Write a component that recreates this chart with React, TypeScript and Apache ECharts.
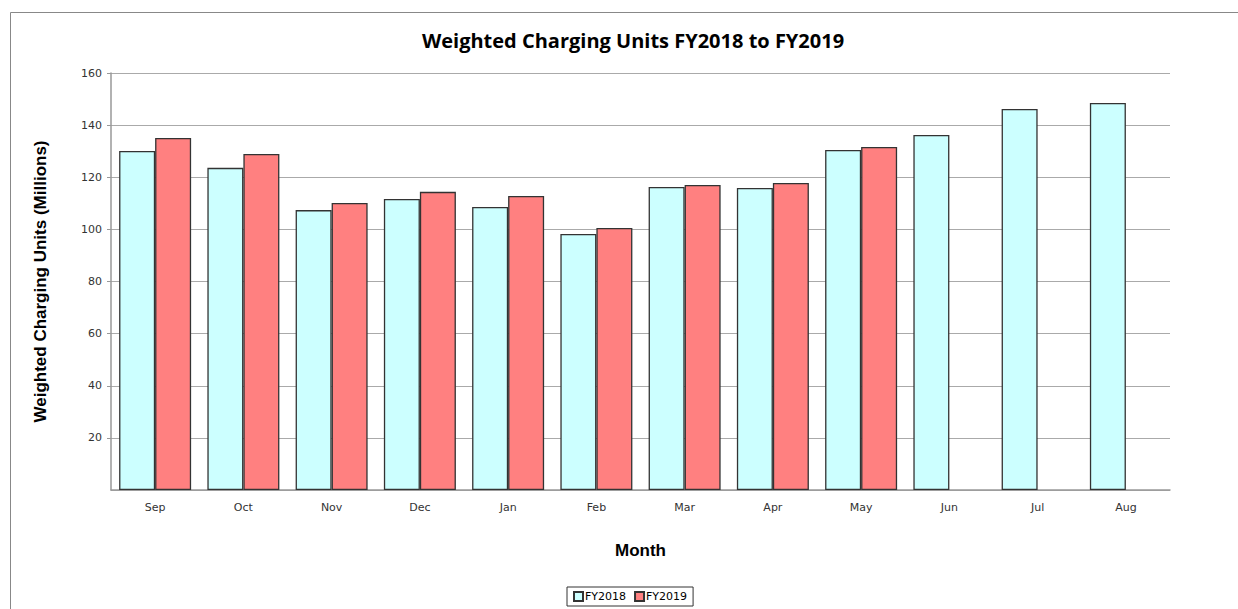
import React, { useEffect, useRef } from "react";
import * as echarts from "echarts";

const months = ["Sep", "Oct", "Nov", "Dec", "Jan", "Feb", "Mar", "Apr", "May", "Jun", "Jul", "Aug"];
const fy2018 = [130.1, 123.6, 107.4, 111.7, 108.6, 98.2, 116.3, 115.9, 130.5, 136.2, 146.2, 148.5];
const fy2019 = [135.1, 128.9, 110.1, 114.4, 112.8, 100.5, 117.0, 117.8, 131.6, null, null, null];
const yTicks = { min: 0, max: 160, interval: 20 };

export default function App() {
  const ref = useRef<HTMLDivElement>(null);
  useEffect(() => {
    if (!ref.current) return;
    const chart = echarts.init(ref.current, undefined, { renderer: "svg" });
    const tickFont = { fontFamily: "DejaVu Sans", fontSize: 11, color: "#333" };
    chart.setOption({
      animation: false,
      backgroundColor: "#fff",
      title: {
        text: "Weighted Charging Units FY2018 to FY2019",
        left: 628,
        top: 25,
        textAlign: "center",
        textStyle: { fontFamily: "Open Sans", fontWeight: "bold", fontSize: 20, color: "#000" },
      },
      graphic: [
        { type: "line", shape: { x1: 10.5, y1: 12.5, x2: 1238, y2: 12.5 }, style: { stroke: "#888", lineWidth: 1 } },
        { type: "line", shape: { x1: 10.5, y1: 12.5, x2: 10.5, y2: 609 }, style: { stroke: "#888", lineWidth: 1 } },
      ],
      legend: {
        data: ["FY2018", "FY2019"],
        icon: "rect",
        left: 567,
        top: 587,
        itemWidth: 9,
        itemHeight: 9,
        itemGap: 8,
        padding: [4, 6, 4, 6],
        borderColor: "#333",
        borderWidth: 1,
        textStyle: { ...tickFont, color: "#000", padding: [0, 0, 0, -3] },
      },
      grid: { left: 111, right: 68, top: 73, bottom: 119, containLabel: false },
      xAxis: {
        type: "category",
        data: months,
        name: "Month",
        nameLocation: "middle",
        nameGap: 52,
        nameTextStyle: { fontFamily: "Liberation Sans", fontWeight: "bold", fontSize: 17, color: "#000" },
        axisLine: { lineStyle: { color: "#999", width: 1.5 } },
        axisTick: { show: false },
        axisLabel: { ...tickFont, margin: 12 },
      },
      yAxis: {
        type: "value",
        min: yTicks.min,
        max: yTicks.max,
        interval: yTicks.interval,
        name: "Weighted Charging Units (Millions)",
        nameLocation: "middle",
        nameGap: 62,
        nameTextStyle: { fontFamily: "Liberation Sans", fontWeight: "bold", fontSize: 17, color: "#000" },
        axisLine: { show: true, lineStyle: { color: "#999", width: 1.5 } },
        axisTick: { show: true, length: 4, lineStyle: { color: "#999" } },
        axisLabel: { ...tickFont, margin: 9, showMinLabel: false, formatter: (v: number) => (v === 0 ? "" : String(v)) },
        splitLine: { lineStyle: { color: "#aaa", width: 1.2 } },
      },
      series: [
        {
          name: "FY2018",
          type: "bar",
          data: fy2018,
          barWidth: 36,
          barGap: "0%",
          itemStyle: { color: "#CCFFFF", borderColor: "#333", borderWidth: 1.3 },
        },
        {
          name: "FY2019",
          type: "bar",
          data: fy2019,
          barWidth: 36,
          barGap: "0%",
          itemStyle: { color: "#FF8080", borderColor: "#333", borderWidth: 1.3 },
        },
      ],
    });
    return () => chart.dispose();
  }, []);
  return (
    <div
      ref={ref}
      style={{ position: "absolute", left: 0, top: 0, width: 1238, height: 609 }}
    />
  );
}
